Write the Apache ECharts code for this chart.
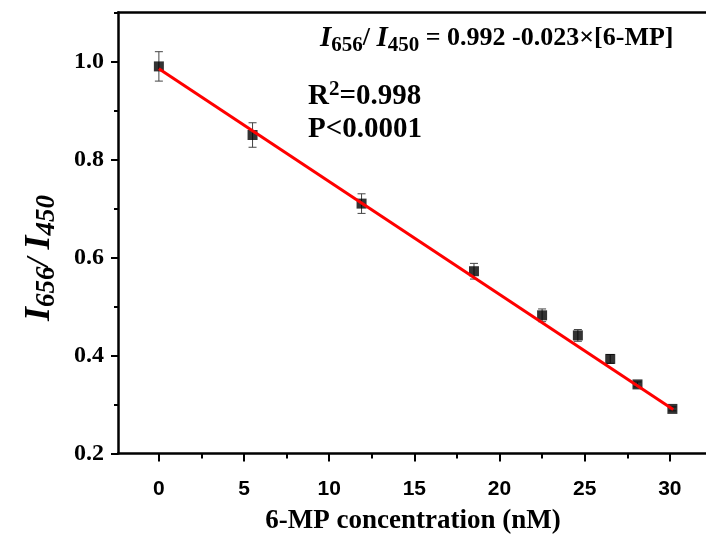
<!DOCTYPE html>
<html><head><meta charset="utf-8">
<script src="https://cdn.jsdelivr.net/npm/echarts@6/dist/echarts.min.js"></script>
<style>html,body{margin:0;padding:0;background:#fff}#c{width:706px;height:536px}</style>
</head><body><div id="c"></div>
<script>
const concX = [0, 5.5, 11.9, 18.5, 22.5, 24.6, 26.5, 28.1, 30.15];
const ratioY = [0.99, 0.85, 0.71, 0.572, 0.482, 0.441, 0.393, 0.341, 0.291];
const errY = [0.03, 0.025, 0.02, 0.016, 0.013, 0.012, 0.009, 0.005, 0.004];
const fitX = [0, 30.2];
const fitY = [0.985, 0.29];
const xMajor = [0, 5, 10, 15, 20, 25, 30];
const xMinor = [2.5, 7.5, 12.5, 17.5, 22.5, 27.5, 32.5];
const yMajor = [0.2, 0.4, 0.6, 0.8, 1.0];
const yMinor = [0.3, 0.5, 0.7, 0.9, 1.1];

const chart = echarts.init(document.getElementById('c'), null, {renderer: 'canvas'});
const axisLine = {onZero: false, lineStyle: {color: '#000', width: 2.5}};
const serif = '"Liberation Serif", "Times New Roman", serif';
const sans = '"Liberation Sans", Arial, sans-serif';
const grid = {left: 118, top: 12.5, width: 637, height: 441, outerBoundsMode: 'none', containLabel: false};
const X0 = -2.4, X1 = 35, Y0 = 0.2, Y1 = 1.1;

const option = {
  animation: false,
  grid: grid,
  xAxis: [
    {type: 'value', min: X0, max: X1, position: 'bottom', axisLine: axisLine,
     splitLine: {show: false},
     axisTick: {customValues: xMajor, length: 8, lineStyle: {width: 2, color: '#000'}},
     axisLabel: {customValues: xMajor, margin: 25, fontFamily: sans, fontWeight: 'bold', fontSize: 21, color: '#000'}},
    {type: 'value', min: X0, max: X1, position: 'bottom', axisLine: {show: false, onZero: false},
     splitLine: {show: false},
     axisTick: {customValues: xMinor, length: 5, lineStyle: {width: 2, color: '#000'}},
     axisLabel: {show: false}},
    {type: 'value', min: X0, max: X1, position: 'top', axisLine: axisLine,
     splitLine: {show: false}, axisTick: {show: false}, axisLabel: {show: false}}
  ],
  yAxis: [
    {type: 'value', min: Y0, max: Y1, position: 'left', axisLine: axisLine,
     splitLine: {show: false},
     axisTick: {customValues: yMajor, length: 7, lineStyle: {width: 2, color: '#000'}},
     axisLabel: {customValues: yMajor, margin: 14, formatter: v => v.toFixed(1), fontFamily: serif, fontWeight: 'bold', fontSize: 24, color: '#000'}},
    {type: 'value', min: Y0, max: Y1, position: 'left', axisLine: {show: false, onZero: false},
     splitLine: {show: false},
     axisTick: {customValues: yMinor, length: 4, lineStyle: {width: 2, color: '#000'}},
     axisLabel: {show: false}},
    {type: 'value', min: Y0, max: Y1, position: 'right', axisLine: axisLine,
     splitLine: {show: false}, axisTick: {show: false}, axisLabel: {show: false}}
  ],
  series: [
    {
      type: 'custom', z: 1,
      data: concX.map((x, i) => [x, ratioY[i], errY[i]]),
      renderItem: function (params, api) {
        const x = api.value(0), y = api.value(1), e = api.value(2);
        const top = api.coord([x, y + e]);
        const bot = api.coord([x, y - e]);
        const hw = 4;
        const st = {stroke: '#444', lineWidth: 1};
        return {type: 'group', children: [
          {type: 'line', shape: {x1: top[0], y1: top[1], x2: bot[0], y2: bot[1]}, style: st},
          {type: 'line', shape: {x1: top[0] - hw, y1: top[1], x2: top[0] + hw, y2: top[1]}, style: st},
          {type: 'line', shape: {x1: bot[0] - hw, y1: bot[1], x2: bot[0] + hw, y2: bot[1]}, style: st}
        ]};
      }
    },
    {
      type: 'scatter', z: 2, symbol: 'rect', symbolSize: 10,
      itemStyle: {color: '#000'},
      data: concX.map((x, i) => [x, ratioY[i]])
    },
    {
      type: 'line', z: 3, symbol: 'none',
      lineStyle: {color: '#ff0000', width: 3},
      data: fitX.map((x, i) => [x, fitY[i]])
    }
  ],
  graphic: [
    {type: 'text', left: 320, top: 24, z: 10, style: {
      text: '{i|I}{s|656}{n|/ }{i|I}{s|450}{n| = 0.992 -0.023×[6-MP]}',
      rich: {
        i: {fontFamily: serif, fontWeight: 'bold', fontStyle: 'italic', fontSize: 29, lineHeight: 36, fill: '#000'},
        s: {fontFamily: serif, fontWeight: 'bold', fontSize: 21, lineHeight: 21, verticalAlign: 'bottom', fill: '#000'},
        n: {fontFamily: serif, fontWeight: 'bold', fontSize: 26, lineHeight: 36, fill: '#000'}
      }}},
    {type: 'text', left: 308, top: 79, z: 10, style: {
      text: '{n|R}{p|2}{n|=0.998}',
      rich: {
        n: {fontFamily: serif, fontWeight: 'bold', fontSize: 29, lineHeight: 36, fill: '#000'},
        p: {fontFamily: serif, fontWeight: 'bold', fontSize: 21, lineHeight: 20, verticalAlign: 'top', fill: '#000'}
      }}},
    {type: 'text', left: 308, top: 115, z: 10, style: {
      text: 'P<0.0001', fontFamily: serif, fontWeight: 'bold', fontSize: 29, fill: '#000'}},
    {type: 'text', x: 40, y: 258, rotation: Math.PI / 2, z: 10, style: {
      text: '{i|I}{s|656}{n|/ }{i|I}{s|450}', align: 'center', verticalAlign: 'middle',
      rich: {
        i: {fontFamily: serif, fontWeight: 'bold', fontStyle: 'italic', fontSize: 36, lineHeight: 42, fill: '#000'},
        s: {fontFamily: serif, fontWeight: 'bold', fontStyle: 'italic', fontSize: 27, lineHeight: 27, verticalAlign: 'bottom', fill: '#000'},
        n: {fontFamily: serif, fontWeight: 'bold', fontStyle: 'italic', fontSize: 32, lineHeight: 42, fill: '#000'}
      }}},
    {type: 'text', x: 413, y: 521, z: 10, style: {
      text: '6-MP concentration (nM)', align: 'center', verticalAlign: 'middle', fontFamily: serif, fontWeight: 'bold', fontSize: 27, fill: '#000'}}
  ]
};
chart.setOption(option);
</script></body></html>
